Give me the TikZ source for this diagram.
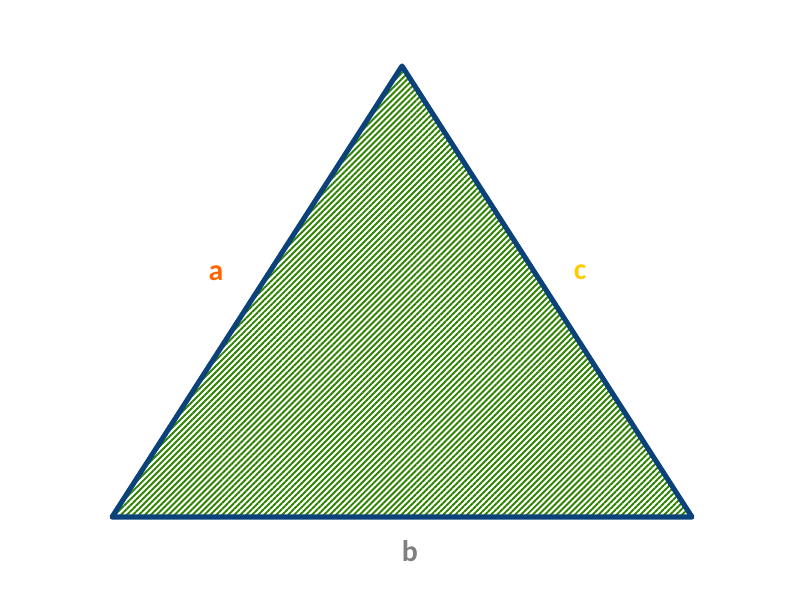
\documentclass[tikz,border=0pt]{standalone}
\usepackage{fontspec}
\setmainfont{Carlito}
\usetikzlibrary{calc,positioning,patterns.meta}
\definecolor{edgeblue}{RGB}{12,66,122}
\definecolor{hatchgreen}{RGB}{45,130,0}
\definecolor{labelorange}{RGB}{255,102,0}
\definecolor{labelyellow}{RGB}{255,204,0}
\definecolor{labelgray}{RGB}{128,128,128}
\tikzset{sidelabel/.style={font=\fontsize{8.5}{10}\selectfont\bfseries,inner sep=0pt}}

\begin{document}
\begin{tikzpicture}[x=0.01cm,y=-0.01cm]

\tikzset{hatched/.style={pattern={Lines[angle=45,distance=1.2pt,line width=0.55pt]},pattern color=hatchgreen},
outline/.style={draw=edgeblue,line width=1.45pt,line join=round}}

% Frame
\useasboundingbox (0,0) rectangle (800,600);

% Corners
\coordinate (top) at (402,66);
\coordinate (botL) at (112,517);
\coordinate (botR) at (692,517);

% Triangle
\fill[hatched] (top) -- (botR) -- (botL) -- cycle;
\draw[outline] (top) -- (botR) -- (botL) -- cycle;

% Side labels
\node[sidelabel,labelorange] (labA) at (216,273) {a};
\node[sidelabel,labelyellow] (labC) at (580,272) {c};
\node[sidelabel,labelgray] (labB) at (410,551) {b};

\end{tikzpicture}
\end{document}
